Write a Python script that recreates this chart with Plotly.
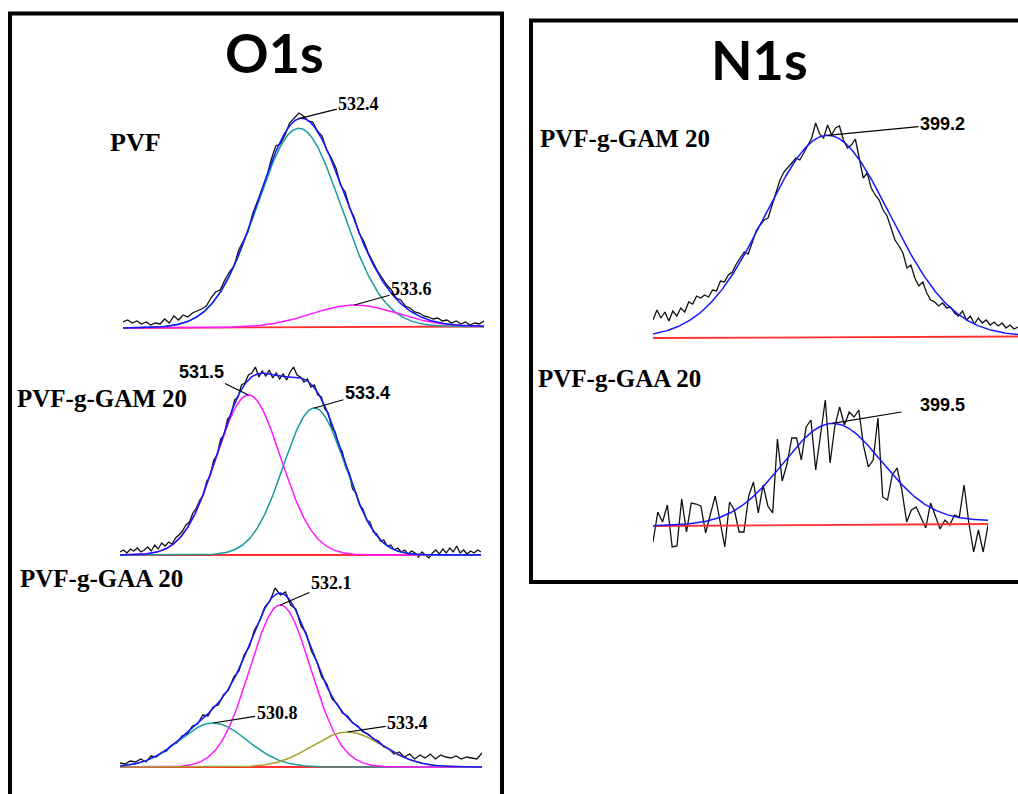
import numpy as np
import plotly.graph_objects as go

# ======================= DATA =======================
# O1s, PVF  (energy grid: start, step in eV; intensities in arbitrary units)
PVF_E0, PVF_DE = 528.6, 0.1
PVF_RAW = [6, 8, 5, 7, 4, 6, 3, 5, 4, 9,
           5, 12, 8, 13, 11, 15, 17, 19, 22, 30,
           36, 38, 48, 56, 62, 78, 87, 96, 114, 126,
           140, 150, 168, 182, 184, 193, 205, 210, 215, 212,
           207, 206, 197, 192, 178, 170, 160, 143, 136, 120,
           110, 95, 87, 75, 66, 57, 50, 43, 38, 30,
           28, 22, 20, 16, 15, 12, 11, 9, 10, 7,
           8, 5, 7, 4, 6, 3, 5, 4, 7]
PVF_CENTERS = [532.4, 533.6]
PVF_HEIGHTS = [199, 22]
PVF_FWHM = [2.15, 2.2]
PVF_BASE = [0, 1.5]

# O1s, PVF-g-GAM 20
GAM_E0, GAM_DE = 527.8, 0.1
GAM_RAW = [3, 5, 2, 6, 4, 7, 3, 5, 8, 4,
           10, 6, 12, 9, 13, 11, 17, 20, 24, 30,
           33, 42, 47, 55, 60, 74, 79, 95, 100, 116,
           120, 136, 140, 155, 158, 170, 172, 180, 182, 188,
           178, 184, 179, 185, 177, 182, 176, 181, 175, 183,
           188, 180, 178, 173, 176, 168, 170, 160, 158, 146,
           142, 127, 123, 108, 104, 88, 82, 66, 62, 50,
           46, 35, 33, 23, 21, 14, 15, 9, 10, 5,
           7, 3, 5, 1, 4, 2, -2, 3, 0, -3,
           2, 5, 1, 6, 2, 7, 3, 9, 2, 5,
           1, 4, 2, 5, 3]
GAM_CENTERS = [531.5, 533.4]
GAM_HEIGHTS = [160, 147]
GAM_FWHM = [2.2, 2.1]
GAM_BASE = [0, 0]

# O1s, PVF-g-GAA 20
GAA_E0, GAA_DE = 529.0, 0.1
GAA_RAW = [4, 3, 6, 5, 8, 5, 11, 10, 14, 16,
           22, 24, 31, 33, 41, 43, 52, 51, 60, 62,
           72, 77, 90, 96, 112, 120, 137, 146, 160, 166,
           179, 172, 175, 162, 158, 141, 134, 116, 106, 90,
           83, 68, 63, 54, 51, 44, 41, 35, 33, 28,
           26, 20, 18, 13, 15, 10, 13, 8, 12, 9,
           13, 8, 12, 10, 9, 11, 8, 10, 9, 8, 14]
GAA_CENTERS = [530.8, 532.1, 533.4]
GAA_HEIGHTS = [44, 162, 35]
GAA_FWHM = [1.55, 1.39, 1.6]
GAA_BASE = [0, 0]

# N1s, PVF-g-GAM 20
NGAM_E0, NGAM_DE = 394.8, 0.1
NGAM_RAW = [18, 28, 20, 26, 17, 27, 22, 30, 26, 36,
            34, 42, 40, 43, 41, 48, 47, 57, 56, 63,
            66, 74, 80, 86, 84, 96, 107, 113, 118, 120,
            132, 145, 158, 166, 170, 175, 180, 178, 185, 192,
            200, 215, 204, 200, 213, 203, 210, 212, 198, 190,
            193, 199, 178, 160, 165, 150, 143, 138, 128, 122,
            110, 98, 92, 85, 70, 73, 60, 52, 56, 45,
            38, 36, 32, 35, 30, 31, 25, 22, 27, 18,
            22, 14, 20, 15, 18, 13, 16, 12, 15, 10,
            13, 9, 11]
NGAM_CENTERS = [399.2]
NGAM_HEIGHTS = [202]
NGAM_FWHM = [3.7]
NGAM_BASE = [0, 1.5]

# N1s, PVF-g-GAA 20
NGAA_E0, NGAA_DE = 395.0, 0.12
NGAA_RAW = [-16, 14, 4, 21, -21, -20, 27, -6, 23, 22,
            20, -7, 12, 30, 5, -21, 24, 16, -6, -6,
            30, 44, 13, 41, 20, 13, 87, 45, 62, 88,
            88, 66, 99, 106, 56, 90, 126, 63, 100, 119,
            101, 114, 109, 116, 80, 59, 66, 108, 29, 26,
            51, 58, 36, 4, 16, 19, 8, -2, 23, 10,
            -3, 6, 1, 11, 9, 41, 3, -26, -4, -26, 1]
NGAA_CENTERS = [399.5]
NGAA_HEIGHTS = [100]
NGAA_FWHM = [2.93]
NGAA_BASE = [0, 2]
NGAA_FIT_BG = [0, 5]

TITLES = ["O1s", "N1s"]
SAMPLES = ["PVF", "PVF-g-GAM 20", "PVF-g-GAA 20", "PVF-g-GAM 20", "PVF-g-GAA 20"]

# ======================= STYLE / LAYOUT =======================
W, H = 1018, 794
TEAL = "#189c9c"
MAGENTA = "#ff1aff"
OLIVE = "#a9a030"
BLUE = "#1717ff"
RED = "#ff3030"
RAW_C = "#111111"
SERIF = "Liberation Serif, Times New Roman, serif"
SANS = "Liberation Sans, Arial, sans-serif"
TITLE_FONT = "Lato, Carlito, Calibri, sans-serif"

panels = [
    dict(e0=PVF_E0, de=PVF_DE, raw=PVF_RAW, c=PVF_CENTERS, h=PVF_HEIGHTS, w=PVF_FWHM,
         base=PVF_BASE, bg=PVF_BASE, colors=[TEAL, MAGENTA], comps=True,
         box=(123, 484, 95, 340, 328),
         labels=[("env", 0, 60, -15, SERIF, 1), ("comp", 1, 57, -16, SERIF, 1)]),
    dict(e0=GAM_E0, de=GAM_DE, raw=GAM_RAW, c=GAM_CENTERS, h=GAM_HEIGHTS, w=GAM_FWHM,
         base=GAM_BASE, bg=GAM_BASE, colors=[MAGENTA, TEAL], comps=True,
         box=(120, 481, 360, 565, 555),
         labels=[("comp", 0, -47, -23, SANS, 1), ("comp", 1, 53, -15, SANS, 1)]),
    dict(e0=GAA_E0, de=GAA_DE, raw=GAA_RAW, c=GAA_CENTERS, h=GAA_HEIGHTS, w=GAA_FWHM,
         base=GAA_BASE, bg=GAA_BASE, colors=[TEAL, MAGENTA, OLIVE], comps=True,
         box=(120, 482, 578, 782, 767),
         labels=[("comp", 1, 51, -22, SERIF, 1), ("comp", 0, 64, -10, SERIF, 1),
                 ("comp", 2, 60, -9, SERIF, 1)]),
    dict(e0=NGAM_E0, de=NGAM_DE, raw=NGAM_RAW, c=NGAM_CENTERS, h=NGAM_HEIGHTS, w=NGAM_FWHM,
         base=NGAM_BASE, bg=NGAM_BASE, colors=[BLUE], comps=False,
         box=(653, 1018, 110, 350, 338),
         labels=[("env", 0, 115, -11, SANS, 1)]),
    dict(e0=NGAA_E0, de=NGAA_DE, raw=NGAA_RAW, c=NGAA_CENTERS, h=NGAA_HEIGHTS, w=NGAA_FWHM,
         base=NGAA_BASE, bg=NGAA_FIT_BG, colors=[BLUE], comps=False,
         box=(653, 988, 390, 565, 526),
         labels=[("env", 0, 110, -18, SANS, 18)]),
]


def gauss(x, c, h, fwhm):
    s = fwhm / 2.3548
    return h * np.exp(-0.5 * ((x - c) / s) ** 2)


fig = go.Figure()
annotations = []
layout_axes = {}

for i, p in enumerate(panels, start=1):
    xa = "x" if i == 1 else f"x{i}"
    ya = "y" if i == 1 else f"y{i}"
    n = len(p["raw"])
    energy = p["e0"] + p["de"] * np.arange(n)
    e_lo, e_hi = energy[0], energy[-1]
    fine = np.linspace(e_lo, e_hi, 500)
    bg_fine = np.interp(fine, [e_lo, e_hi], p["bg"])
    comps = [gauss(fine, c, h, w) for c, h, w in zip(p["c"], p["h"], p["w"])]
    env = bg_fine + np.sum(comps, axis=0)

    fig.add_trace(go.Scatter(x=energy, y=p["raw"], mode="lines",
                             line=dict(color=RAW_C, width=1.3),
                             xaxis=xa, yaxis=ya, hoverinfo="skip"))
    fig.add_trace(go.Scatter(x=[e_lo, e_hi], y=p["base"], mode="lines",
                             line=dict(color=RED, width=1.8),
                             xaxis=xa, yaxis=ya, hoverinfo="skip"))
    if p["comps"]:
        for comp, col in zip(comps, p["colors"]):
            fig.add_trace(go.Scatter(x=fine, y=comp + bg_fine, mode="lines",
                                     line=dict(color=col, width=1.5),
                                     xaxis=xa, yaxis=ya, hoverinfo="skip"))
    fig.add_trace(go.Scatter(x=fine, y=env, mode="lines",
                             line=dict(color=BLUE, width=1.5),
                             xaxis=xa, yaxis=ya, hoverinfo="skip"))

    x0, x1, top, bottom, base_py = p["box"]
    layout_axes["xaxis" if i == 1 else f"xaxis{i}"] = dict(
        domain=[x0 / W, x1 / W], range=[e_lo, e_hi], visible=False, anchor=ya)
    layout_axes["yaxis" if i == 1 else f"yaxis{i}"] = dict(
        domain=[1 - bottom / H, 1 - top / H], range=[base_py - bottom, base_py - top],
        visible=False, anchor=xa)

    for kind, k, dx, dy, fam, pad in p["labels"]:
        c = p["c"][k]
        bgc = float(np.interp(c, [e_lo, e_hi], p["bg"]))
        if kind == "env":
            tip = bgc + sum(gauss(c, cc, hh, ww) for cc, hh, ww in zip(p["c"], p["h"], p["w"]))
        else:
            tip = bgc + p["h"][k]
        annotations.append(dict(
            x=c, y=tip, xref=xa, yref=ya, ax=dx, ay=dy,
            text=f"<b>{c:.1f}</b>", showarrow=True, arrowhead=0, arrowwidth=1.2,
            arrowcolor="black", standoff=0, borderpad=pad,
            font=dict(family=fam, size=18, color="black")))

# Titles
annotations.append(dict(x=274.5 / W, y=1 - 52 / H, xref="paper", yref="paper",
                        text="<b>" + TITLES[0] + "</b>", showarrow=False,
                        font=dict(family=TITLE_FONT, size=54, color="black"),
                        xanchor="center", yanchor="middle"))
annotations.append(dict(x=759.5 / W, y=1 - 59.5 / H, xref="paper", yref="paper",
                        text="<b>" + TITLES[1] + "</b>", showarrow=False,
                        font=dict(family=TITLE_FONT, size=54, color="black"),
                        xanchor="center", yanchor="middle"))

# Sample labels (left x px, centre y px, font size)
label_pos = [(108, 143, 26), (15, 398, 25), (18, 578, 25), (538, 138, 25), (536, 378, 25)]
for txt, (lx, ly, fs) in zip(SAMPLES, label_pos):
    annotations.append(dict(x=lx / W, y=1 - ly / H, xref="paper", yref="paper",
                            text="<b>" + txt + "</b>", showarrow=False,
                            font=dict(family=SERIF, size=fs, color="black"),
                            xanchor="left", yanchor="middle"))

shapes = [
    dict(type="rect", xref="paper", yref="paper",
         x0=10 / W, x1=502 / W, y0=1 - 820 / H, y1=1 - 13.5 / H,
         line=dict(color="black", width=4)),
    dict(type="rect", xref="paper", yref="paper",
         x0=531 / W, x1=1040 / W, y0=1 - 582 / H, y1=1 - 20.5 / H,
         line=dict(color="black", width=4)),
]

fig.update_layout(
    width=W, height=H, margin=dict(l=0, r=0, t=0, b=0),
    paper_bgcolor="white", plot_bgcolor="rgba(0,0,0,0)",
    showlegend=False, annotations=annotations, shapes=shapes,
    **layout_axes)

fig.write_html("out.html",
               config={"displayModeBar": False, "staticPlot": True},
               post_script="document.body.style.margin='0px';"
                           "document.body.style.overflow='hidden';")
